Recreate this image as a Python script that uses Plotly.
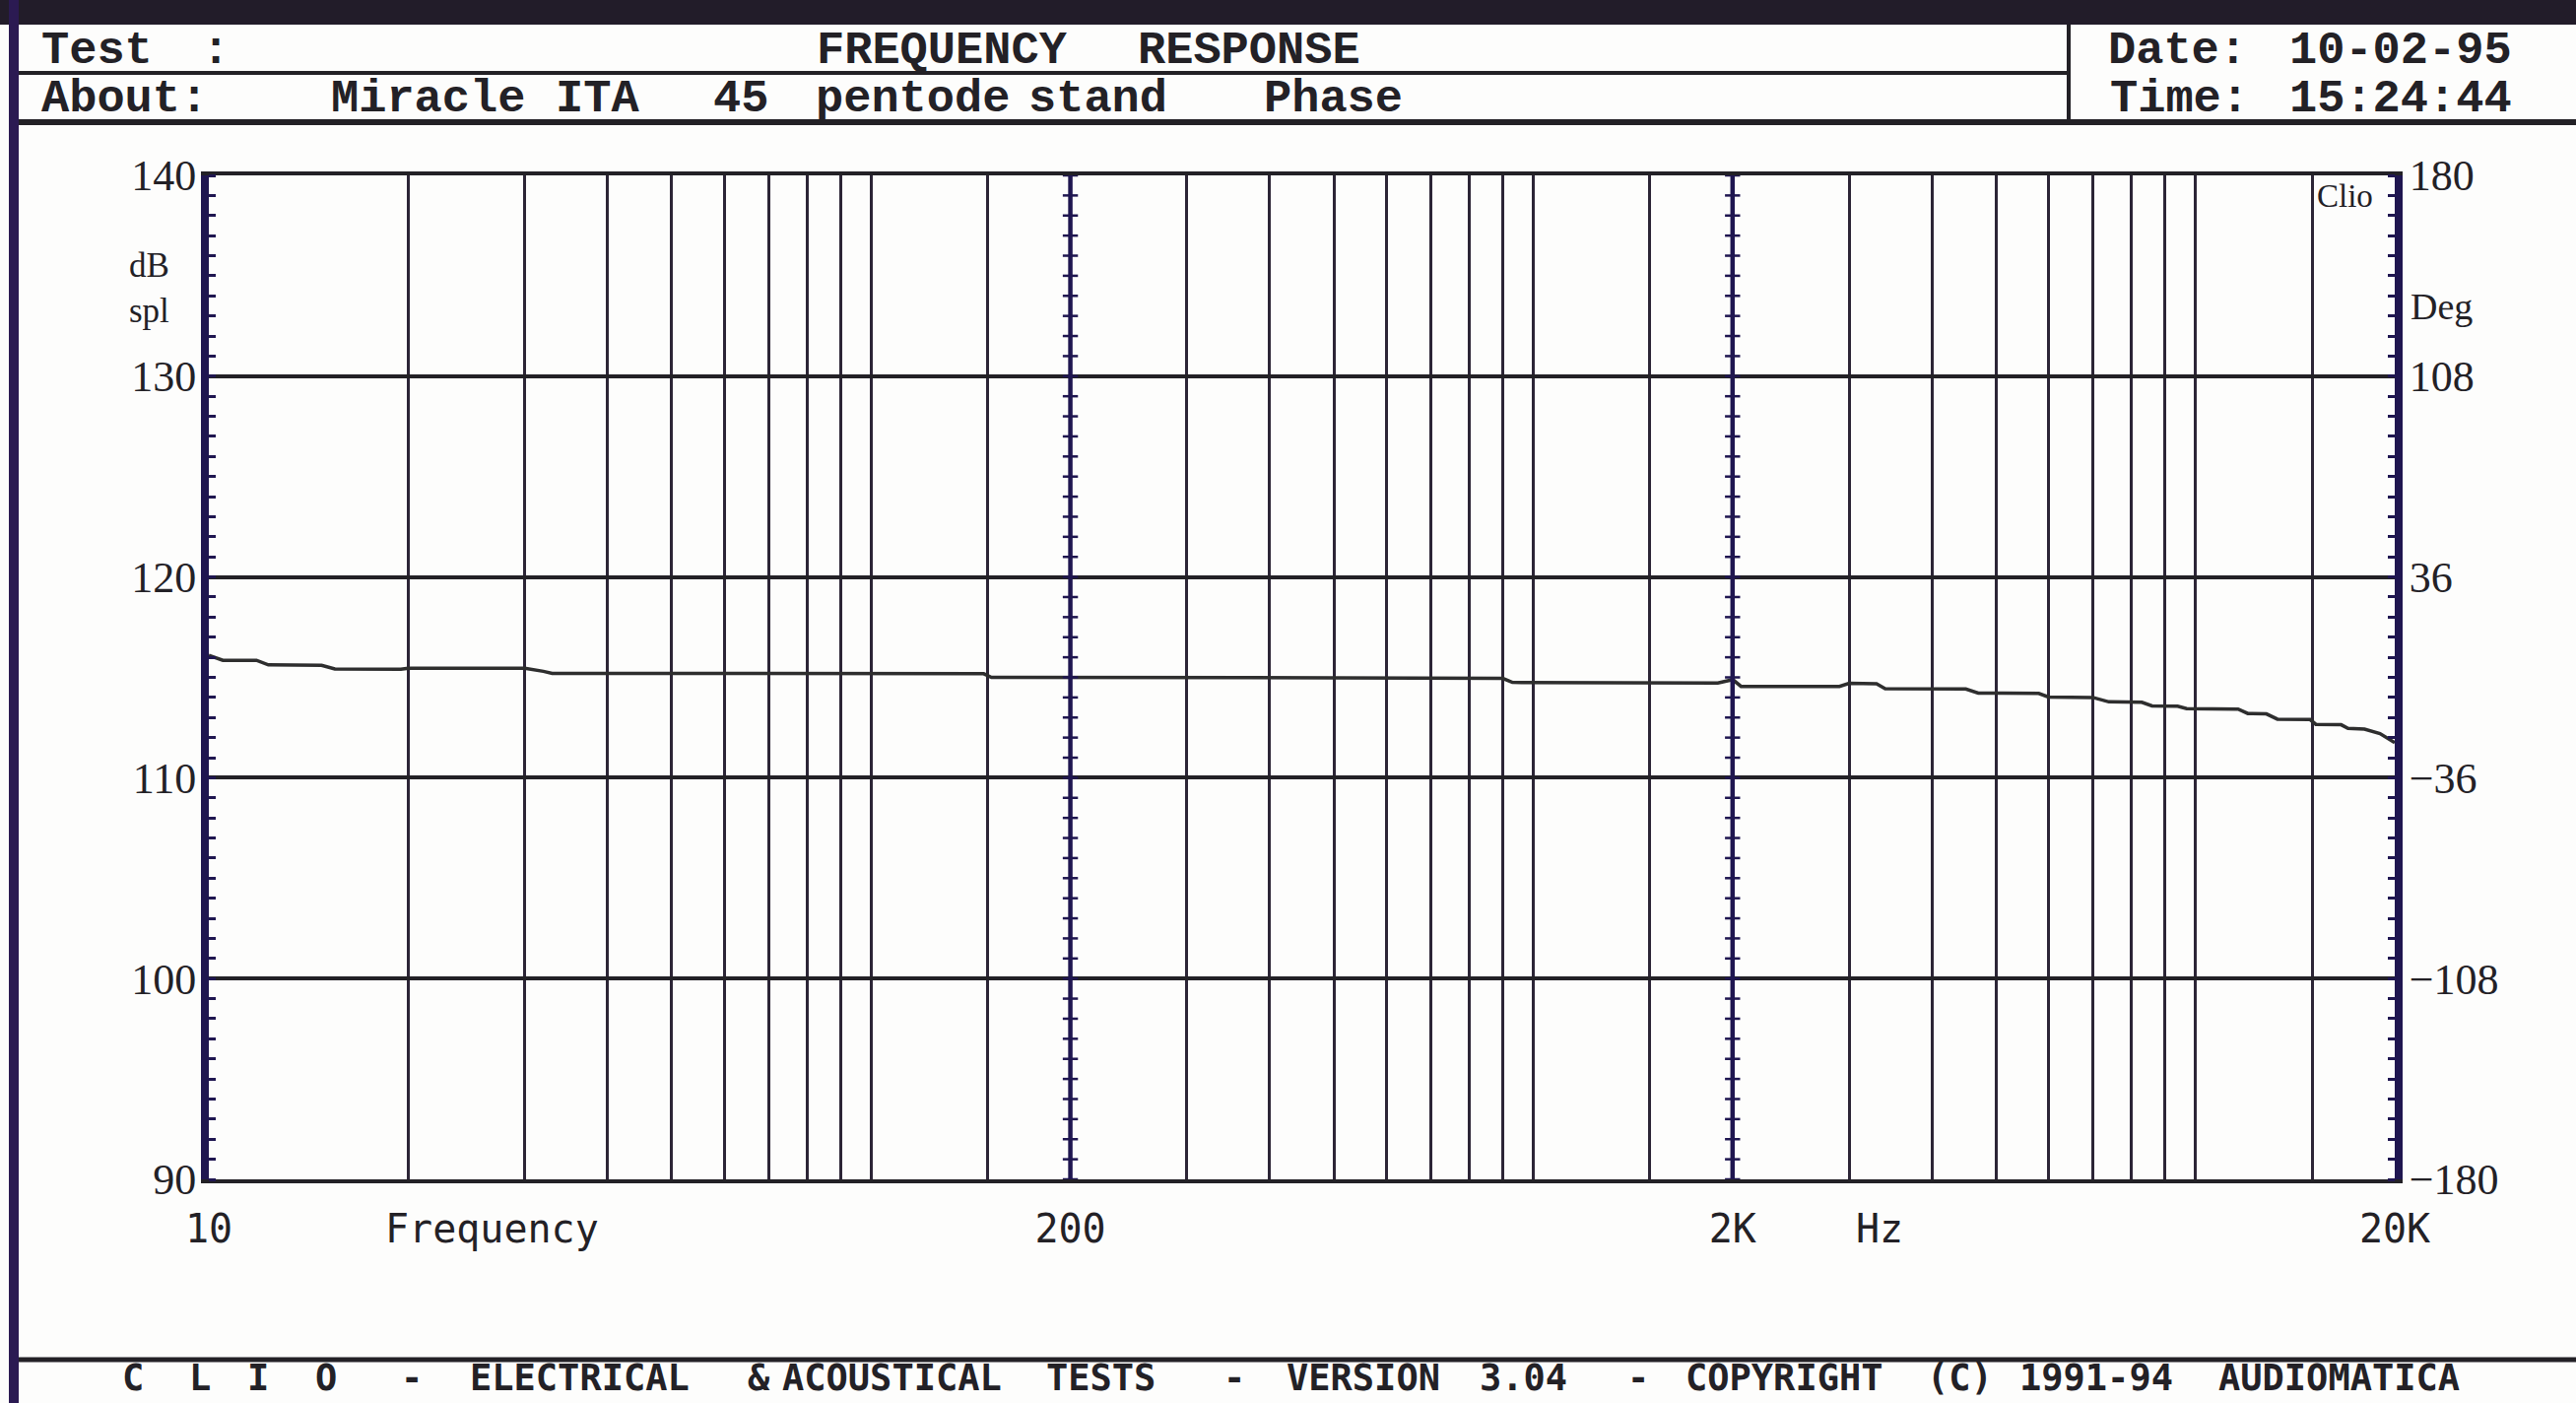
import plotly.graph_objects as go

# ---------------- data ----------------
freq_hz = [10, 10.5, 11, 11.8, 12.3, 14.8, 15.5, 19.5, 20, 30, 32, 33, 50, 100,
           148, 152, 200, 300, 500, 900, 930, 960, 1500, 1900, 1980, 2000, 2060,
           2500, 2900, 3000, 3300, 3400, 4500, 4700, 5800, 6000, 7000, 7400, 8300,
           8600, 9400, 9700, 11600, 12000, 12800, 13300, 14900, 15200, 16600,
           17000, 18000, 19000, 20000]
spl_db = [116.1, 115.85, 115.85, 115.85, 115.62, 115.6, 115.42, 115.4, 115.45,
          115.45, 115.3, 115.2, 115.2, 115.2, 115.18, 115.0, 115.0, 115.0, 114.98,
          114.95, 114.75, 114.74, 114.72, 114.72, 114.85, 114.9, 114.55, 114.53,
          114.55, 114.7, 114.68, 114.44, 114.42, 114.22, 114.2, 114.02, 114.0,
          113.78, 113.76, 113.58, 113.56, 113.44, 113.42, 113.2, 113.18, 112.92,
          112.9, 112.66, 112.64, 112.46, 112.42, 112.2, 111.75]

grid_freqs = [10, 20, 30, 40, 50, 60, 70, 80, 90, 100, 150, 200, 300, 400, 500,
              600, 700, 800, 900, 1000, 1500, 2000, 3000, 4000, 5000, 6000, 7000,
              8000, 9000, 10000, 15000, 20000]
x_label_map = {10: "10", 200: "200", 2000: "2K", 20000: "20K"}
major_freqs = [200, 2000]
spl_ticks = [90, 100, 110, 120, 130, 140]
phase_ticks = [-180, -108, -36, 36, 108, 180]
phase_tick_text = ["\u2212180", "\u2212108", "\u221236", "36", "108", "180"]
tick_db_steps = list(range(90, 141))

header_row1 = ["Test", ":", "FREQUENCY", "RESPONSE", "Date:", "10-02-95"]
header_row2 = ["About:", "Miracle", "ITA", "45", "pentode", "stand", "Phase",
               "Time:", "15:24:44"]
footer_words = ["C", "L", "I", "O", "-", "ELECTRICAL", "&", "ACOUSTICAL", "TESTS",
                "-", "VERSION", "3.04", "-", "COPYRIGHT", "(C)", "1991-94",
                "AUDIOMATICA"]

# ---------------- layout geometry (pixels) ----------------
W, H = 2615, 1424
L, R, T, B = 212, 2431, 178, 1197
row1_x = [40, 203, 827, 1153, 2138, 2322]
row2_x = [40, 334, 562, 722, 826, 1042, 1281, 2140, 2322]
footer_x = [122, 190, 249, 318, 405, 475, 757, 792, 1060, 1240, 1304, 1500, 1650,
            1709, 1954, 2048, 2250]

def px(x):
    return (x - L) / (R - L)

def py(y):
    return (B - y) / (B - T)

INK = "#232126"
GRID = "#2c2536"
NAVY = "#1f1650"

fig = go.Figure()

fig.add_trace(go.Scatter(x=freq_hz, y=spl_db, mode="lines",
                         line=dict(color="#2e2e2e", width=3.5),
                         showlegend=False, hoverinfo="x+y"))

for f in major_freqs:
    fig.add_trace(go.Scatter(x=[f] * 2, y=[spl_ticks[0], spl_ticks[-1]], mode="lines",
                             line=dict(color=NAVY, width=4.5), showlegend=False,
                             hoverinfo="skip"))
    fig.add_trace(go.Scatter(x=[f] * len(tick_db_steps), y=tick_db_steps,
                             mode="markers",
                             marker=dict(symbol="line-ew", size=11,
                                         line=dict(color=NAVY, width=2.5)),
                             showlegend=False, hoverinfo="skip"))

# phase axis carrier (invisible)
fig.add_trace(go.Scatter(x=[grid_freqs[0]], y=[0], yaxis="y2", mode="markers",
                         marker=dict(opacity=0), showlegend=False, hoverinfo="skip"))

fig.update_layout(
    width=W, height=H,
    margin=dict(l=L, r=W - R, t=T, b=H - B),
    paper_bgcolor="#fdfdfc", plot_bgcolor="#fdfdfc",
    xaxis=dict(type="log", range=[1, 4.30103], tickvals=grid_freqs,
               ticktext=[x_label_map.get(f, "") for f in grid_freqs],
               showgrid=True, gridcolor=GRID, gridwidth=3,
               showline=True, linecolor=INK, linewidth=4, mirror=True,
               ticks="", ticklabelstandoff=12, zeroline=False,
               tickfont=dict(family="DejaVu Sans Mono", size=40, color=INK)),
    yaxis=dict(range=[90, 140], tickvals=spl_ticks, showgrid=True, gridcolor=INK,
               gridwidth=3.5, showline=True, linecolor=NAVY, linewidth=8,
               ticks="", zeroline=False, ticklabelstandoff=-4,
               minor=dict(ticks="inside", dtick=1, ticklen=7, tickwidth=2.5,
                          tickcolor=NAVY, showgrid=False),
               tickfont=dict(family="Liberation Serif", size=44, color=INK)),
    yaxis2=dict(range=[-180, 180], tickvals=phase_ticks, ticktext=phase_tick_text,
                overlaying="y", side="right", showgrid=False, showline=True,
                linecolor=NAVY, linewidth=8, ticks="", zeroline=False,
                ticklabelstandoff=-2,
                minor=dict(ticks="inside", dtick=7.2, ticklen=7, tickwidth=2.5,
                           tickcolor=NAVY, showgrid=False),
                tickfont=dict(family="Liberation Serif", size=44, color=INK)),
)

shapes = []
def hline(y, x0, x1, w, c=INK):
    shapes.append(dict(type="line", xref="paper", yref="paper", x0=px(x0), x1=px(x1),
                       y0=py(y), y1=py(y), line=dict(color=c, width=w), layer="above"))

shapes.append(dict(type="rect", xref="paper", yref="paper", x0=px(0), x1=px(W),
                   y0=py(25), y1=py(0), fillcolor="#221c29", line=dict(width=0)))
shapes.append(dict(type="rect", xref="paper", yref="paper", x0=px(9), x1=px(19),
                   y0=py(H), y1=py(0), fillcolor="#2b1a52", line=dict(width=0)))
hline(74, 19, 2100, 4)
hline(124, 19, W, 6)
hline(1380, 19, W, 5)
shapes.append(dict(type="line", xref="paper", yref="paper", x0=px(2100), x1=px(2100),
                   y0=py(25), y1=py(124), line=dict(color=INK, width=4)))
fig.update_layout(shapes=shapes)

ann = []
def text(s, x, y, size, family, bold=False, xanchor="left", color=INK):
    ann.append(dict(text=f"<b>{s}</b>" if bold else s, x=px(x), y=py(y),
                    xref="paper", yref="paper", xanchor=xanchor, yanchor="middle",
                    showarrow=False, align="left",
                    font=dict(family=family, size=size, color=color)))

HF = "Liberation Mono"
for s, x in zip(header_row1, row1_x):
    text(s, x, 52, 47, HF, bold=True)
for s, x in zip(header_row2, row2_x):
    text(s, x, 101, 47, HF, bold=True)
for s, x in zip(footer_words, footer_x):
    text(s, x, 1398, 37, "DejaVu Sans Mono", bold=True)

text("dB<br>spl", 129, 292, 35, "Liberation Serif")
text("Deg", 2445, 311, 38, "Liberation Serif")
text("Clio", 2350, 199, 33, "Liberation Serif")
text("Frequency", 389, 1247, 40, "DejaVu Sans Mono")
text("Hz", 1882, 1247, 40, "DejaVu Sans Mono")
fig.update_layout(annotations=ann)

fig.write_html("out.html", config={"displayModeBar": False},
               post_script="document.body.style.margin='0';document.body.style.overflow='hidden';")
